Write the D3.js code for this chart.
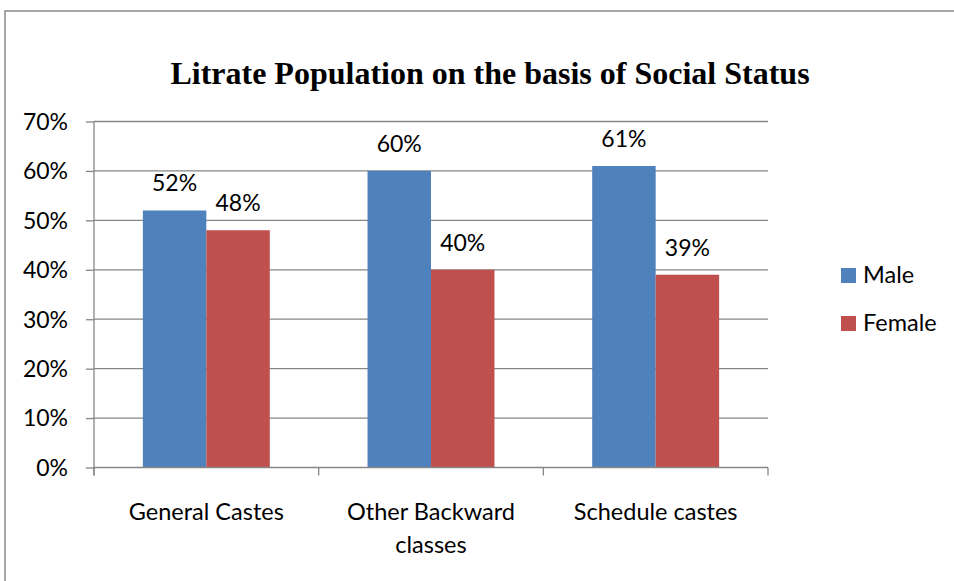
<!DOCTYPE html>
<html><head><meta charset="utf-8">
<script src="https://cdn.jsdelivr.net/npm/d3@7"></script>
<style>body{margin:0;background:#fff}</style>
</head><body>
<svg id="c" width="954" height="581"></svg>
<script>
const categories = ["General Castes", "Other Backward classes", "Schedule castes"];
const categoryLines = [["General Castes"], ["Other Backward", "classes"], ["Schedule castes"]];
const seriesNames = ["Male", "Female"];
const maleValues = [0.52, 0.60, 0.61];
const femaleValues = [0.48, 0.40, 0.39];
const yTicks = [0, 0.1, 0.2, 0.3, 0.4, 0.5, 0.6, 0.7];
const colors = ["#4F81BD", "#C0504D"];
const title = "Litrate Population on the basis of Social Status";

(function () {
const svg = d3.select("#c");
const font = "Lato, 'Open Sans', sans-serif";
const pL = 94, pR = 768, pT = 121.5, pB = 467.5;

svg.append("rect").attr("x", 5).attr("y", 11).attr("width", 1000).attr("height", 700)
  .attr("fill", "none").attr("stroke", "#8a8a8a").attr("stroke-width", 1.5);

svg.append("text").attr("x", 490).attr("y", 84).attr("text-anchor", "middle")
  .attr("font-family", "'Liberation Serif', 'Times New Roman', serif")
  .attr("font-weight", "bold").attr("font-size", 32).attr("fill", "#000").text(title);

const y = d3.scaleLinear().domain([0, 0.7]).range([pB, pT]);
const x0 = d3.scaleBand().domain(categories).range([pL, pR]).paddingInner(0.435).paddingOuter(0.2175);
const x1 = d3.scaleBand().domain(seriesNames).range([0, x0.bandwidth()]);

svg.append("g").selectAll("line").data(yTicks.filter(d => d > 0)).join("line")
  .attr("x1", pL).attr("x2", pR).attr("y1", d => y(d)).attr("y2", d => y(d))
  .attr("stroke", "#868686").attr("stroke-width", 1.3);

const yAxis = svg.append("g").attr("transform", `translate(${pL},0)`)
  .call(d3.axisLeft(y).tickValues(yTicks).tickFormat(d3.format(".0%")).tickSize(8).tickPadding(18));
yAxis.select(".domain").attr("stroke", "#868686").attr("stroke-width", 1.3).attr("d", `M0,${pT}V${pB + 8}`);
yAxis.selectAll(".tick line").attr("stroke", "#868686").attr("stroke-width", 1.3);
yAxis.selectAll(".tick text").attr("font-family", font).attr("font-size", 23).attr("fill", "#000").attr("dy", "0.34em");

const data = categories.map((c, i) => ({c, vals: [maleValues[i], femaleValues[i]]}));
const g = svg.append("g").selectAll("g").data(data).join("g")
  .attr("transform", d => `translate(${x0(d.c)},0)`);
g.selectAll("rect").data(d => d.vals.map((v, j) => ({v, s: seriesNames[j], j}))).join("rect")
  .attr("x", d => x1(d.s)).attr("width", x1.bandwidth())
  .attr("y", d => y(d.v)).attr("height", d => y(0) - y(d.v))
  .attr("fill", d => colors[d.j]);
g.selectAll("text").data(d => d.vals.map((v, j) => ({v, s: seriesNames[j], j}))).join("text")
  .attr("x", d => x1(d.s) + x1.bandwidth() / 2).attr("y", d => y(d.v) - 19)
  .attr("text-anchor", "middle").attr("font-family", font).attr("font-size", 23).attr("fill", "#000")
  .text(d => d3.format(".0%")(d.v));

svg.append("line").attr("x1", pL).attr("x2", pR).attr("y1", pB).attr("y2", pB)
  .attr("stroke", "#868686").attr("stroke-width", 1.3);
const bounds = [pL].concat(categories.map(c => x0(c) + x0.bandwidth() + x0.step() * x0.paddingInner() / 2));
svg.append("g").selectAll("line").data(bounds).join("line")
  .attr("x1", d => d).attr("x2", d => d).attr("y1", pB).attr("y2", pB + 8)
  .attr("stroke", "#868686").attr("stroke-width", 1.3);
svg.append("g").selectAll("text").data(categories).join("text")
  .attr("text-anchor", "middle").attr("font-family", font).attr("font-size", 23.5).attr("fill", "#000")
  .attr("transform", c => `translate(${x0(c) + x0.bandwidth() / 2},519.5)`)
  .each(function(c, i) {
    const t = d3.select(this);
    categoryLines[i].forEach((ln, k) => t.append("tspan").attr("x", 0).attr("dy", k ? 33 : 0).text(ln));
  });

const lg = svg.append("g").selectAll("g").data(seriesNames).join("g")
  .attr("transform", (d, i) => `translate(841,${268 + i * 48})`);
lg.append("rect").attr("width", 15).attr("height", 15).attr("fill", (d, i) => colors[i]);
lg.append("text").attr("x", 22).attr("y", 15)
  .attr("font-family", font).attr("font-size", 23.5).attr("fill", "#000").text(d => d);
})();
</script>
</body></html>
